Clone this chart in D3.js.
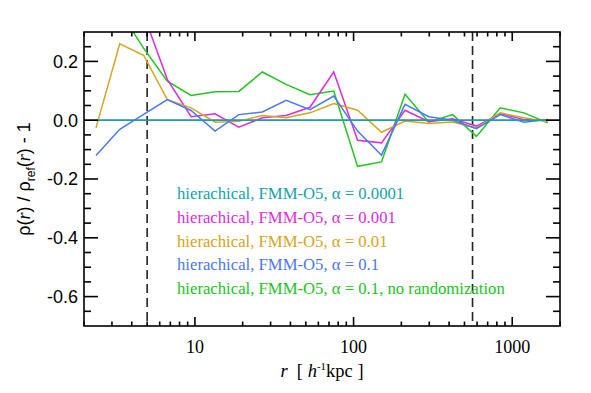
<!DOCTYPE html>
<html>
<head>
<meta charset="utf-8">
<script src="https://cdn.jsdelivr.net/npm/d3@7"></script>
<style>
	body { margin: 0; background: #fff; }
	svg { display: block; }
</style>
</head>
<body>
<div id="chart"></div>
<script>
// radial bins (h^-1 kpc)
const rBins = [2.38, 3.36, 4.75, 6.70, 9.46, 13.4, 18.9, 26.6, 37.6, 53.1, 75.0, 106, 150, 211, 298, 421, 595, 840, 1186, 1675];

// relative deviation rho/rho_ref - 1 for each run
const alpha0001 = [0, 0, 0, 0, 0, 0, 0, 0, 0, 0, 0, 0, 0, 0, 0, 0, 0, 0, 0, 0];
const alpha001 = [0.6, 0.55, 0.36, 0.139, 0.012, 0.022, -0.024, 0.008, 0.016, 0.044, 0.164, -0.068, -0.077, 0.034, -0.005, 0.005, -0.02, 0.023, 0.002, -0.001];
const alpha01 = [-0.026, 0.26, 0.221, 0.07, 0.042, -0.007, -0.004, 0.016, 0.008, 0.025, 0.057, 0.034, -0.041, -0.003, -0.011, -0.006, -0.026, 0.025, 0.008, -0.005];
const alpha1 = [-0.12, -0.031, 0.02, 0.07, 0.033, -0.037, 0.019, 0.028, 0.068, 0.036, 0.082, -0.037, -0.119, 0.054, 0.012, 0, -0.029, 0.019, -0.007, 0.002];
const alpha1NoRand = [0.45, 0.37, 0.245, 0.133, 0.084, 0.097, 0.098, 0.164, 0.122, 0.087, 0.099, -0.157, -0.142, 0.088, -0.007, 0.019, -0.055, 0.042, 0.025, -0.009];

const seriesLabels = [
	'hierachical, FMM-O5, α = 0.0001',
	'hierachical, FMM-O5, α = 0.001',
	'hierachical, FMM-O5, α = 0.01',
	'hierachical, FMM-O5, α = 0.1',
	'hierachical, FMM-O5, α = 0.1, no randomization'
];
const seriesColors = ['#14a3a6', '#dc2ddc', '#d6a421', '#4a78f6', '#22c422'];

// vertical markers
const markerRadii = [5, 562];

const xTickValues = [10, 100, 1000];
const yTickValues = [0.2, 0.0, -0.2, -0.4, -0.6];

const W = 591, H = 393;
const pLeft = 84, pRight = 560, pTop = 32, pBottom = 326;

const svg = d3.select('#chart')
	.append('svg')
	.attr('width', W)
	.attr('height', H);

const x = d3.scaleLog().domain([2, 2000]).range([pLeft, pRight]);
const y = d3.scaleLinear().domain([-0.7, 0.3]).range([pBottom, pTop]);

svg.append('defs').append('clipPath')
	.attr('id', 'plotclip')
	.append('rect')
	.attr('x', pLeft).attr('y', pTop)
	.attr('width', pRight - pLeft).attr('height', pBottom - pTop);

const plot = svg.append('g').attr('clip-path', 'url(#plotclip)');

// zero reference line across the full range
plot.append('line')
	.attr('x1', pLeft).attr('x2', pRight)
	.attr('y1', y(0)).attr('y2', y(0))
	.attr('stroke', '#7a3cf0')
	.attr('stroke-width', 1.5);

// dashed vertical markers
plot.selectAll('line.marker')
	.data(markerRadii)
	.enter()
	.append('line')
	.attr('class', 'marker')
	.attr('x1', (d) => x(d)).attr('x2', (d) => x(d))
	.attr('y1', pTop).attr('y2', pBottom)
	.attr('stroke', '#222')
	.attr('stroke-width', 1.6)
	.attr('stroke-dasharray', '9,5');

const allSeries = [alpha0001, alpha001, alpha01, alpha1, alpha1NoRand];

const line = d3.line()
	.x((d, i) => x(rBins[i]))
	.y((d) => y(d));

// draw order: green first so the others sit on top, cyan last
const drawOrder = [4, 1, 2, 3, 0];
plot.selectAll('path.series')
	.data(drawOrder)
	.enter()
	.append('path')
	.attr('class', 'series')
	.attr('d', (k) => line(allSeries[k]))
	.attr('fill', 'none')
	.attr('stroke', (k) => seriesColors[k])
	.attr('stroke-width', 1.5)
	.attr('stroke-linejoin', 'miter');

// axes frame and ticks (ticks pointing inwards on all sides)
const axisG = svg.append('g').attr('stroke', '#000').attr('stroke-width', 1.6);

const xMinor = [];
for (let dec = 1; dec <= 1000; dec *= 10) {
	for (let m = 1; m <= 9; m++) {
		const v = m * dec;
		if (v >= 2 && v <= 2000 && !xTickValues.includes(v)) xMinor.push(v);
	}
}
const yMinor = d3.range(-0.65, 0.3, 0.05)
	.map((v) => Math.round(v * 100) / 100)
	.filter((v) => !yTickValues.some((t) => Math.abs(t - v) < 1e-6));

[pBottom, pTop].forEach((yy) => {
	const dir = yy === pBottom ? -1 : 1;
	axisG.selectAll(null)
		.data(xTickValues)
		.enter()
		.append('line')
		.attr('x1', (d) => x(d)).attr('x2', (d) => x(d))
		.attr('y1', yy).attr('y2', yy + dir * 9);
	axisG.selectAll(null)
		.data(xMinor)
		.enter()
		.append('line')
		.attr('x1', (d) => x(d)).attr('x2', (d) => x(d))
		.attr('y1', yy).attr('y2', yy + dir * 4.5);
});

[pLeft, pRight].forEach((xx) => {
	const dir = xx === pLeft ? 1 : -1;
	axisG.selectAll(null)
		.data(yTickValues)
		.enter()
		.append('line')
		.attr('x1', xx).attr('x2', xx + dir * 14)
		.attr('y1', (d) => y(d)).attr('y2', (d) => y(d));
	axisG.selectAll(null)
		.data(yMinor)
		.enter()
		.append('line')
		.attr('x1', xx).attr('x2', xx + dir * 7)
		.attr('y1', (d) => y(d)).attr('y2', (d) => y(d));
});

axisG.append('rect')
	.attr('x', pLeft).attr('y', pTop)
	.attr('width', pRight - pLeft).attr('height', pBottom - pTop)
	.attr('fill', 'none');

// tick labels
svg.append('g')
	.selectAll('text')
	.data(yTickValues)
	.enter()
	.append('text')
	.attr('x', pLeft - 6)
	.attr('y', (d) => y(d))
	.attr('dy', '0.36em')
	.attr('text-anchor', 'end')
	.style('font-family', '"Liberation Sans", Arial, sans-serif')
	.style('font-size', '18px')
	.text((d) => d3.format('.1f')(d).replace('−', '-'));

svg.append('g')
	.selectAll('text')
	.data(xTickValues)
	.enter()
	.append('text')
	.attr('x', (d) => x(d))
	.attr('y', 353)
	.attr('text-anchor', 'middle')
	.style('font-family', '"Liberation Serif", "Times New Roman", serif')
	.style('font-size', '18px')
	.text((d) => d);

// x axis title
const xTitle = svg.append('text')
	.attr('x', (pLeft + pRight) / 2)
	.attr('y', 377)
	.attr('text-anchor', 'middle')
	.style('font-family', '"Liberation Serif", "Times New Roman", serif')
	.style('font-size', '18.5px');
xTitle.append('tspan').style('font-style', 'italic').text('r');
xTitle.append('tspan').attr('xml:space', 'preserve').text('  [ ');
xTitle.append('tspan').style('font-style', 'italic').text('h');
xTitle.append('tspan').attr('dy', -7).style('font-size', '11px').text('-1');
xTitle.append('tspan').attr('dy', 7).text('kpc ]');

// y axis title
const yTitle = svg.append('text')
	.attr('transform', `translate(30,${(pTop + pBottom) / 2}) rotate(-90)`)
	.attr('text-anchor', 'middle')
	.style('font-family', '"Liberation Sans", Arial, sans-serif')
	.style('font-size', '18px');
yTitle.append('tspan').text('ρ(');
yTitle.append('tspan').style('font-style', 'italic').style('font-family', '"Liberation Serif", serif').text('r');
yTitle.append('tspan').text(') / ρ');
yTitle.append('tspan').attr('dy', 5).style('font-size', '12px').text('ref');
yTitle.append('tspan').attr('dy', -5).text('(');
yTitle.append('tspan').style('font-style', 'italic').style('font-family', '"Liberation Serif", serif').text('r');
yTitle.append('tspan').text(') - 1');

// legend as coloured text lines
svg.append('g')
	.selectAll('text')
	.data(seriesLabels)
	.enter()
	.append('text')
	.attr('x', 177)
	.attr('y', (d, i) => 199 + i * 23.8)
	.attr('fill', (d, i) => seriesColors[i])
	.style('font-family', '"Liberation Serif", "Times New Roman", serif')
	.style('font-size', '16.7px')
	.text((d) => d);
</script>
</body>
</html>
